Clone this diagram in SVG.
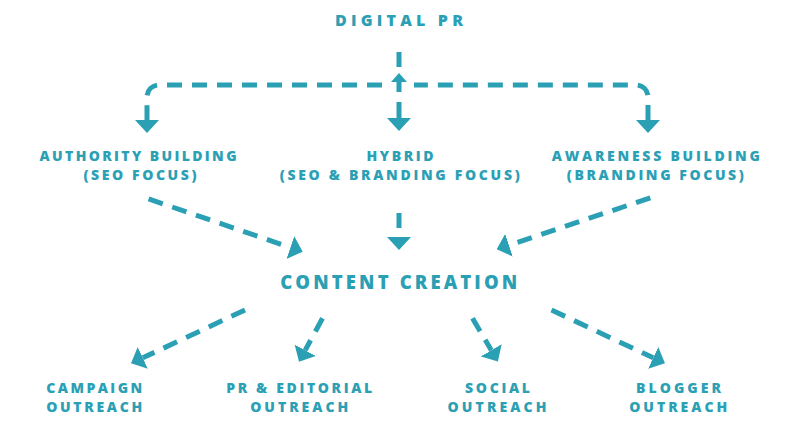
<svg xmlns="http://www.w3.org/2000/svg" width="786" height="444" viewBox="0 0 786 444">
  <style>
    .lbl { font-family: "Open Sans", "Liberation Sans", sans-serif; font-weight: 800; fill: #2ba0b5; text-anchor: middle; }
    .s { font-size: 14px; }
    .m { font-size: 16px; }
    .l { font-size: 18.5px; }
    .dash { fill: none; stroke: #2ba0b5; stroke-width: 5; stroke-dasharray: 15 10; marker-end: url(#ah); }
    .solid { fill: none; stroke: #2ba0b5; stroke-width: 5; }
    .head { fill: #2ba0b5; }
  </style>
  <defs>
    <marker id="ah" viewBox="0 0 13 24" refX="0" refY="12" markerWidth="13" markerHeight="24" markerUnits="userSpaceOnUse" orient="auto">
      <path d="M0,0 L13,12 L0,24 Z" fill="#2ba0b5"/>
    </marker>
  </defs>
  <rect width="786" height="444" fill="#ffffff"/>

  <g id="connectors">
    <path class="dash" d="M382,85 H159 A12,12 0 0 0 147,97 V120"/>
    <path class="dash" style="stroke-dashoffset:1.15" d="M414,85 H636 A12,12 0 0 1 648,97 V120"/>
    <path class="solid" d="M399,52 V67"/>
    <polygon class="head" points="391,82 399,73 407,82"/>
    <path class="solid" d="M399,81 V92"/>
    <path class="solid" style="marker-end:url(#ah)" d="M399,102 V118"/>
    <path class="dash" d="M148.6,198.9 L290.4,247.5"/>
    <path class="dash" d="M650.3,197.8 L509,245.2"/>
    <path class="dash" d="M399,213 V237"/>
    <path class="dash" d="M245,310 L142.8,357.8"/>
    <path class="dash" d="M322.5,318.3 L305.2,350.3"/>
    <path class="dash" d="M472.5,318.3 L491.3,350.3"/>
    <path class="dash" d="M551.5,310 L653.2,357.8"/>
  </g>

  <g id="n-digital-pr">
    <text class="lbl m" x="399" y="26" textLength="128" lengthAdjust="spacing">DIGITAL PR</text>
  </g>
  <g id="n-authority">
    <text class="lbl s" x="138" y="161" textLength="197" lengthAdjust="spacing">AUTHORITY BUILDING</text>
    <text class="lbl s" x="140" y="179.5" textLength="113" lengthAdjust="spacing">(SEO FOCUS)</text>
  </g>
  <g id="n-hybrid">
    <text class="lbl s" x="400" y="161" textLength="67" lengthAdjust="spacing">HYBRID</text>
    <text class="lbl s" x="399.7" y="179.5" textLength="240" lengthAdjust="spacing">(SEO &amp; BRANDING FOCUS)</text>
  </g>
  <g id="n-awareness">
    <text class="lbl s" x="655.8" y="161" textLength="208" lengthAdjust="spacing">AWARENESS BUILDING</text>
    <text class="lbl s" x="655.3" y="179.5" textLength="177" lengthAdjust="spacing">(BRANDING FOCUS)</text>
  </g>
  <g id="n-content">
    <text class="lbl l" x="398.7" y="289" textLength="237" lengthAdjust="spacing">CONTENT CREATION</text>
  </g>
  <g id="n-campaign">
    <text class="lbl s" x="94.2" y="393" textLength="96" lengthAdjust="spacing">CAMPAIGN</text>
    <text class="lbl s" x="94.2" y="411.5" textLength="96" lengthAdjust="spacing">OUTREACH</text>
  </g>
  <g id="n-pr-editorial">
    <text class="lbl s" x="299.2" y="393" textLength="146" lengthAdjust="spacing">PR &amp; EDITORIAL</text>
    <text class="lbl s" x="299.2" y="411.5" textLength="98" lengthAdjust="spacing">OUTREACH</text>
  </g>
  <g id="n-social">
    <text class="lbl s" x="497.5" y="393" textLength="65" lengthAdjust="spacing">SOCIAL</text>
    <text class="lbl s" x="497" y="411.5" textLength="99" lengthAdjust="spacing">OUTREACH</text>
  </g>
  <g id="n-blogger">
    <text class="lbl s" x="678.5" y="393" textLength="85" lengthAdjust="spacing">BLOGGER</text>
    <text class="lbl s" x="678.2" y="411.5" textLength="98" lengthAdjust="spacing">OUTREACH</text>
  </g>
</svg>
